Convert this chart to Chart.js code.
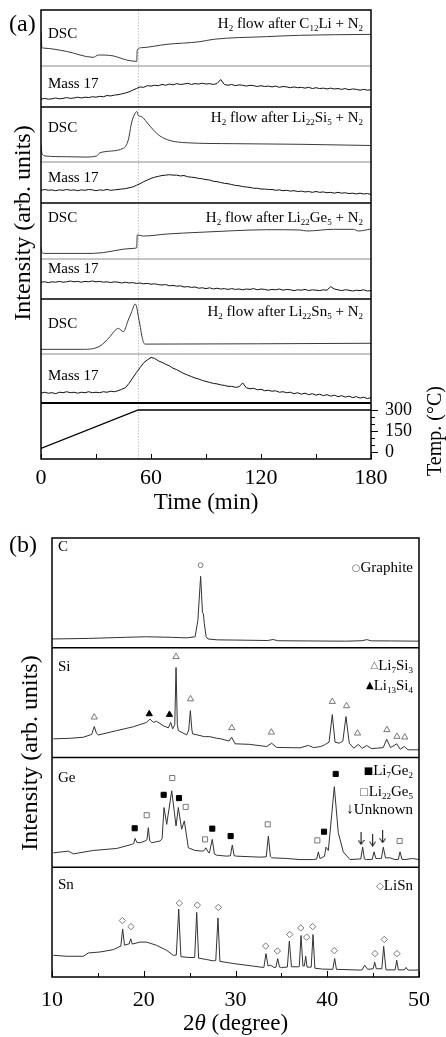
<!DOCTYPE html>
<html>
<head>
<meta charset="utf-8">
<script src="https://cdn.jsdelivr.net/npm/chart.js@4.4.1/dist/chart.umd.min.js"></script>
<style>
  html, body { margin: 0; padding: 0; background: #fff; }
  #wrap { position: relative; width: 446px; height: 1037px; }
  canvas { position: absolute; left: 0; }
</style>
</head>
<body>
<div id="wrap">
  <canvas id="tpd" width="446" height="530" style="top:0"></canvas>
  <canvas id="xrd" width="446" height="507" style="top:530px"></canvas>
</div>
<script>
// ---------- (a) H2 flow: DSC and mass 17 vs time ----------
const massTime = [0,2,4,6,8,10,12,14,16,18,20,22,24,26,28,30,32,34,36,38,40,42,44,46,48,50,52,54,56,58,
  60,62,64,66,68,70,72,74,76,78,80,82,84,86,88,90,92,94,96,98,100,102,104,106,108,110,112,114,116,118,
  120,122,124,126,128,130,132,134,136,138,140,142,144,146,148,150,152,154,156,158,160,162,164,166,168,170,172,174,176,178,180];

const massC = [0.19,0.21,0.19,0.20,0.22,0.20,0.21,0.23,0.21,0.22,
  0.24,0.22,0.24,0.23,0.25,0.24,0.26,0.25,0.28,0.27,
  0.29,0.30,0.32,0.34,0.37,0.41,0.45,0.49,0.48,0.52,
  0.51,0.53,0.52,0.55,0.53,0.56,0.54,0.57,0.55,0.56,
  0.58,0.55,0.57,0.56,0.58,0.56,0.57,0.55,0.57,0.67,
  0.55,0.53,0.55,0.52,0.54,0.53,0.51,0.53,0.52,0.50,
  0.52,0.50,0.51,0.49,0.51,0.48,0.50,0.49,0.47,0.49,
  0.47,0.48,0.46,0.48,0.45,0.47,0.45,0.46,0.44,0.46,
  0.44,0.45,0.43,0.45,0.42,0.44,0.43,0.41,0.43,0.41,0.42];

const massSi = [0.31,0.33,0.31,0.32,0.30,0.32,0.31,0.33,0.31,0.32,
  0.30,0.32,0.31,0.33,0.32,0.30,0.32,0.31,0.33,0.31,
  0.32,0.33,0.34,0.35,0.37,0.39,0.43,0.47,0.52,0.56,
  0.60,0.63,0.65,0.67,0.68,0.69,0.68,0.68,0.66,0.67,
  0.64,0.63,0.62,0.60,0.59,0.57,0.56,0.53,0.52,0.50,
  0.48,0.47,0.45,0.43,0.42,0.40,0.39,0.38,0.36,0.36,
  0.34,0.34,0.33,0.33,0.31,0.32,0.30,0.31,0.29,0.30,
  0.28,0.29,0.27,0.28,0.26,0.28,0.26,0.27,0.25,0.26,
  0.24,0.26,0.24,0.25,0.23,0.24,0.22,0.24,0.22,0.23,0.21];

const massGe = [0.42,0.43,0.41,0.43,0.42,0.44,0.42,0.43,0.45,0.43,
  0.44,0.42,0.44,0.43,0.45,0.43,0.44,0.42,0.43,0.41,
  0.43,0.42,0.40,0.42,0.40,0.41,0.39,0.40,0.38,0.39,
  0.37,0.38,0.36,0.35,0.36,0.33,0.34,0.32,0.33,0.30,
  0.31,0.29,0.30,0.27,0.28,0.26,0.28,0.25,0.27,0.25,
  0.26,0.24,0.26,0.24,0.25,0.23,0.25,0.24,0.26,0.23,
  0.25,0.24,0.22,0.24,0.23,0.25,0.22,0.24,0.23,0.21,
  0.23,0.22,0.24,0.21,0.23,0.22,0.21,0.23,0.22,0.31,
  0.25,0.23,0.21,0.23,0.22,0.20,0.22,0.21,0.23,0.20,0.21];

const massSn = [0.20,0.22,0.20,0.21,0.19,0.22,0.21,0.23,0.21,0.22,
  0.20,0.22,0.21,0.23,0.21,0.22,0.21,0.23,0.22,0.24,
  0.23,0.25,0.28,0.31,0.40,0.51,0.62,0.72,0.82,0.88,
  0.93,0.91,0.86,0.83,0.79,0.76,0.71,0.68,0.64,0.60,
  0.57,0.54,0.51,0.49,0.46,0.44,0.42,0.40,0.39,0.37,
  0.36,0.34,0.34,0.32,0.33,0.41,0.31,0.29,0.30,0.27,
  0.28,0.25,0.26,0.24,0.25,0.22,0.23,0.21,0.22,0.19,
  0.21,0.18,0.20,0.17,0.19,0.16,0.18,0.15,0.17,0.14,
  0.16,0.13,0.15,0.12,0.14,0.11,0.13,0.10,0.12,0.09,0.11];

const dscCTime = [0, 0.5, 1.3, 14, 28.5, 31.3, 39.4, 46.7, 52.2, 52.5, 54.9, 68.6, 86.7, 93.9, 123, 141, 180];
const dscC     = [0.6, 0.33, 0.32, 0.26, 0.155, 0.196, 0.18, 0.107, 0.083, 0.286, 0.327, 0.387, 0.434, 0.476, 0.524, 0.548, 0.565];

const dscSiTime = [0, 0.5, 2.2, 14, 24, 30.4, 32.2, 44.9, 47.6, 49.5, 51.3, 52.2, 53.1, 54.9, 57.6, 61.3, 64.9, 70.4, 79.5, 104.9, 141.3, 180];
const dscSi     = [0.31, 0.158, 0.11, 0.096, 0.09, 0.11, 0.169, 0.249, 0.4, 0.727, 0.885, 0.918, 0.845, 0.824, 0.727, 0.582, 0.473, 0.39, 0.35, 0.333, 0.322, 0.3];

const dscGeTime = [0, 0.5, 2, 28.5, 50.3, 52.2, 52.5, 55.8, 68.6, 86.7, 104.9, 123.1, 141.3, 145, 159.5, 170.4, 173.1, 180];
const dscGe     = [0.22, 0.12, 0.10, 0.10, 0.19, 0.2, 0.43, 0.41, 0.446, 0.477, 0.505, 0.523, 0.518, 0.5, 0.53, 0.53, 0.5, 0.536];

const dscSnTime = [0, 23.1, 32.2, 37.6, 40.4, 42.2, 44.9, 47.6, 49.5, 51.3, 52.2, 53.1, 54, 54.9, 56, 57, 180];
const dscSn     = [0.085, 0.085, 0.145, 0.315, 0.43, 0.467, 0.405, 0.618, 0.77, 0.91, 0.85, 0.68, 0.527, 0.345, 0.205, 0.18, 0.195];

const tempTime = [0, 53, 180];
const tempC    = [25, 300, 300];

const timeLabels = [0, 60, 120, 180];
const tempLabels = [0, 150, 300];

// ---------- (b) XRD patterns ----------
const cTheta = [10, 14, 18, 20.3, 23, 24.7, 25.6, 25.9, 26.2, 26.4, 26.5, 26.6, 26.8, 27.0, 28, 30, 33.5, 34.1, 34.6, 38, 42, 43.8, 44.3, 44.8, 47, 50];
const cInt   = [0.08, 0.085, 0.095, 0.1, 0.095, 0.09, 0.1, 0.25, 0.651, 0.32, 0.309, 0.22, 0.1, 0.08, 0.072, 0.07, 0.066, 0.075, 0.064, 0.062, 0.06, 0.064, 0.074, 0.063, 0.062, 0.06];

const siTheta = [10.14, 12, 13.42, 14.32, 14.61, 14.85, 15.05, 17.05, 18.86, 20.32, 20.68, 21.04, 21.4, 22.13, 22.68, 22.94, 23.15, 23.38, 23.52, 23.66, 23.77, 24.68, 24.9, 25.08, 25.25, 25.33, 26.13, 26.6, 27.2, 27.95, 28.4, 29.3, 29.58, 29.95, 31.5, 33.4, 33.94, 34.49, 37.03, 37.94, 38.5, 39.3, 39.7, 40.2, 40.55, 40.85, 41.3, 41.7, 42.04, 42.4, 42.9, 43.39, 43.8, 44.3, 44.8, 45.5, 46.1, 46.48, 46.9, 47.57, 47.95, 48.4, 48.8, 50];
const siInt   = [0.17, 0.175, 0.185, 0.21, 0.282, 0.22, 0.205, 0.245, 0.28, 0.32, 0.35, 0.32, 0.33, 0.29, 0.27, 0.32, 0.26, 0.3, 0.82, 0.3, 0.245, 0.206, 0.25, 0.427, 0.25, 0.215, 0.2, 0.19, 0.19, 0.175, 0.17, 0.15, 0.185, 0.125, 0.12, 0.1, 0.13, 0.092, 0.088, 0.11, 0.09, 0.1, 0.115, 0.14, 0.39, 0.14, 0.13, 0.15, 0.373, 0.13, 0.085, 0.12, 0.083, 0.11, 0.082, 0.085, 0.09, 0.166, 0.09, 0.125, 0.075, 0.1, 0.07, 0.07];

const geTheta = [10.14, 11.78, 12.33, 14.5, 17.05, 18.69, 18.9, 19.05, 19.25, 19.59, 20.14, 20.35, 20.5, 20.65, 20.87, 21.77, 22.0, 22.21, 22.5, 23.05, 23.52, 23.77, 24.13, 24.42, 24.86, 25.59, 26.31, 26.55, 26.78, 27.0, 27.15, 27.47, 27.7, 27.95, 29.04, 29.45, 29.65, 29.85, 30.13, 32.67, 33.35, 33.58, 33.8, 33.94, 35.58, 37.03, 38.48, 38.85, 39.03, 39.2, 39.39, 39.7, 39.86, 40.12, 40.77, 41.2, 41.75, 42.48, 43.4, 43.65, 43.86, 44.05, 44.3, 44.9, 45.1, 45.3, 45.57, 45.9, 46.11, 46.35, 46.84, 47.38, 47.75, 47.93, 48.15, 48.47, 49.3, 50];
const geInt   = [0.131, 0.147, 0.122, 0.153, 0.171, 0.208, 0.215, 0.263, 0.225, 0.223, 0.239, 0.25, 0.361, 0.24, 0.223, 0.239, 0.26, 0.544, 0.391, 0.697, 0.376, 0.544, 0.346, 0.422, 0.177, 0.153, 0.147, 0.15, 0.177, 0.14, 0.13, 0.254, 0.12, 0.11, 0.101, 0.105, 0.202, 0.105, 0.101, 0.092, 0.095, 0.284, 0.1, 0.086, 0.08, 0.07, 0.07, 0.075, 0.14, 0.08, 0.086, 0.1, 0.183, 0.153, 0.734, 0.315, 0.14, 0.07, 0.075, 0.075, 0.183, 0.075, 0.07, 0.072, 0.14, 0.08, 0.08, 0.08, 0.183, 0.085, 0.086, 0.07, 0.072, 0.14, 0.072, 0.07, 0.08, 0.07];

const snTheta = [10.14, 11.6, 13.42, 13.96, 15.23, 16.68, 17.41, 17.5, 17.7, 17.9, 18.32, 18.4, 18.58, 18.75, 19.59, 20.32, 21.41, 22.5, 23.22, 23.55, 23.81, 24.05, 25.04, 25.55, 25.77, 25.98, 26.86, 27.58, 27.85, 28.09, 28.3, 29.76, 31.94, 33.03, 33.1, 33.32, 33.55, 33.8, 34.2, 34.4, 34.6, 34.8, 35.03, 35.65, 35.87, 36.1, 36.85, 36.95, 37.14, 37.35, 37.5, 37.65, 37.8, 38.25, 38.45, 38.65, 39.5, 40.6, 40.81, 41.0, 43.57, 43.8, 44.08, 44.4, 45.0, 45.17, 45.35, 45.95, 46.15, 46.4, 47.4, 47.57, 47.75, 48.4, 48.58, 48.8, 50];
const snInt   = [0.198, 0.189, 0.189, 0.219, 0.228, 0.249, 0.279, 0.28, 0.438, 0.29, 0.30, 0.30, 0.348, 0.30, 0.318, 0.318, 0.288, 0.243, 0.198, 0.2, 0.619, 0.185, 0.177, 0.178, 0.589, 0.172, 0.159, 0.147, 0.15, 0.538, 0.142, 0.123, 0.099, 0.087, 0.09, 0.213, 0.1, 0.108, 0.087, 0.088, 0.168, 0.09, 0.087, 0.09, 0.327, 0.093, 0.093, 0.095, 0.378, 0.1, 0.1, 0.189, 0.09, 0.09, 0.387, 0.08, 0.072, 0.07, 0.168, 0.07, 0.063, 0.065, 0.108, 0.07, 0.075, 0.135, 0.075, 0.075, 0.279, 0.065, 0.065, 0.153, 0.065, 0.065, 0.087, 0.063, 0.063];

// peak markers (position, height of the symbol)
const graphiteTheta = [26.2];
const graphiteY     = [0.752];
const li7si3Theta = [14.6, 23.52, 25.1, 29.6, 33.9, 40.55, 42.1, 43.3, 46.5, 47.6, 48.45];
const li7si3Y     = [0.367, 0.918, 0.533, 0.27, 0.23, 0.509, 0.47, 0.221, 0.252, 0.191, 0.185];
const li13si4Theta = [20.6, 22.8];
const li13si4Y     = [0.397, 0.391];
const li7ge2Theta = [19.01, 22.17, 23.84, 27.47, 29.47, 39.65, 40.92];
const li7ge2Y     = [0.355, 0.66, 0.63, 0.352, 0.284, 0.324, 0.85];
const li22ge5Theta = [20.32, 23.11, 24.57, 26.68, 33.51, 38.92, 47.89];
const li22ge5Y     = [0.474, 0.813, 0.55, 0.254, 0.391, 0.245, 0.239];
const unknownTheta = [43.68, 44.95, 46.04];
const unknownY     = [0.263, 0.248, 0.278];
const lisnTheta = [17.67, 18.61, 23.88, 25.84, 28.13, 33.29, 34.56, 35.91, 37.11, 37.76, 38.41, 40.77, 45.2, 46.22, 47.6];
const lisnY     = [0.514, 0.459, 0.673, 0.655, 0.634, 0.282, 0.237, 0.387, 0.447, 0.363, 0.459, 0.24, 0.213, 0.342, 0.213];

const thetaLabels = [10, 20, 30, 40, 50];

// ---------- helpers ----------
const serif = '"Liberation Serif", "Times New Roman", Times, serif';
const symFont = '"DejaVu Sans", sans-serif';

function pairs(xs, ys) {
  return xs.map((x, i) => ({ x: x, y: ys[i] }));
}

// text with "_12" style subscripts, y is the visual middle of capitals
function drawRich(ctx, str, x, y, size, align) {
  const parts = str.split(/_(\d+)/);
  const main = size + 'px ' + serif;
  const sub = Math.round(size * 0.62) + 'px ' + serif;
  let w = 0;
  parts.forEach((p, i) => { ctx.font = i % 2 ? sub : main; w += ctx.measureText(p).width; });
  let cx = align === 'right' ? x - w : (align === 'center' ? x - w / 2 : x);
  const base = y + size * 0.33;
  ctx.textAlign = 'left';
  ctx.textBaseline = 'alphabetic';
  parts.forEach((p, i) => {
    ctx.font = i % 2 ? sub : main;
    ctx.fillText(p, cx, i % 2 ? base + size * 0.2 : base);
    cx += ctx.measureText(p).width;
  });
  return cx - w;
}

function hline(ctx, x0, x1, y, color, width) {
  ctx.strokeStyle = color;
  ctx.lineWidth = width;
  ctx.beginPath();
  ctx.moveTo(x0, y);
  ctx.lineTo(x1, y);
  ctx.stroke();
}

function rotatedText(ctx, text, x, y, size) {
  ctx.save();
  ctx.translate(x, y);
  ctx.rotate(-Math.PI / 2);
  ctx.font = size + 'px ' + serif;
  ctx.textAlign = 'center';
  ctx.textBaseline = 'middle';
  ctx.fillText(text, 0, 0);
  ctx.restore();
}

Chart.defaults.animation = false;
Chart.defaults.font.family = serif;

// ---------- chart (a) ----------
const tpdPanels = [
  { id: 'yC1',  h: 56, sep: null,   label: 'DSC',     ly: 23, title: 'H_2 flow after C_12Li + N_2',  ty: 13 },
  { id: 'yC2',  h: 41, sep: '#8a8a8a', label: 'Mass 17', ly: 17 },
  { id: 'ySi1', h: 55, sep: '#000', label: 'DSC',     ly: 20, title: 'H_2 flow after Li_22Si_5 + N_2', ty: 10 },
  { id: 'ySi2', h: 41, sep: '#8a8a8a', label: 'Mass 17', ly: 15 },
  { id: 'yGe1', h: 56, sep: '#000', label: 'DSC',     ly: 14, title: 'H_2 flow after Li_22Ge_5 + N_2', ty: 14 },
  { id: 'yGe2', h: 40, sep: '#8a8a8a', label: 'Mass 17', ly: 9 },
  { id: 'ySn1', h: 55, sep: '#000', label: 'DSC',     ly: 24, title: 'H_2 flow after Li_22Sn_5 + N_2', ty: 12 },
  { id: 'ySn2', h: 49, sep: '#8a8a8a', label: 'Mass 17', ly: 21 },
  { id: 'yT',   h: 56, sep: '#000' }
];

const tpdScales = { x: { type: 'linear', min: 0, max: 180, display: false } };
tpdPanels.forEach((p, i) => {
  tpdScales[p.id] = {
    type: 'linear', position: 'left', stack: 'tpd', stackWeight: p.h,
    weight: tpdPanels.length - i, display: false,
    min: p.id === 'yT' ? -50 : 0, max: p.id === 'yT' ? 350 : 1
  };
});

function dscSet(axis, xs, ys) {
  return { yAxisID: axis, data: pairs(xs, ys), borderColor: '#3a3a3a', borderWidth: 1,
    pointRadius: 0, cubicInterpolationMode: 'monotone' };
}
function massSet(axis, ys) {
  return { yAxisID: axis, data: pairs(massTime, ys), borderColor: '#111', borderWidth: 1,
    pointRadius: 0, tension: 0 };
}

const tpdDecor = {
  id: 'tpdDecor',
  beforeDatasetsDraw(chart) {
    const { ctx, chartArea: a, scales } = chart;
    ctx.save();
    const xr = Math.round(scales.x.getPixelForValue(tempTime[1])) + 0.5;
    ctx.strokeStyle = '#c4c4c4';
    ctx.lineWidth = 1;
    ctx.setLineDash([1.5, 1.5]);
    ctx.beginPath();
    ctx.moveTo(xr, a.top);
    ctx.lineTo(xr, a.bottom);
    ctx.stroke();
    ctx.setLineDash([]);
    tpdPanels.forEach((p) => {
      if (!p.sep) return;
      const y = scales[p.id].top;
      const w = p.sep === '#000' ? (p.id === 'yT' ? 2 : 1.5) : 1;
      hline(ctx, a.left, a.right, y, p.sep, w);
    });
    ctx.restore();
  },
  afterDraw(chart) {
    const { ctx, chartArea: a, scales } = chart;
    ctx.save();
    ctx.strokeStyle = '#000';
    ctx.lineWidth = 1.5;
    ctx.strokeRect(a.left, a.top, a.width, a.height);

    // time axis, ticks pointing inward
    ctx.lineWidth = 1;
    for (let t = 0; t <= 180; t += 30) {
      const x = Math.round(scales.x.getPixelForValue(t)) + 0.5;
      ctx.beginPath(); ctx.moveTo(x, a.bottom); ctx.lineTo(x, a.bottom - 5); ctx.stroke();
    }
    ctx.fillStyle = '#000';
    ctx.font = '22px ' + serif;
    ctx.textAlign = 'center';
    ctx.textBaseline = 'middle';
    timeLabels.forEach(t => ctx.fillText(String(t), scales.x.getPixelForValue(t), a.bottom + 19));
    ctx.font = '23px ' + serif;
    ctx.fillText('Time (min)', (a.left + a.right) / 2, a.bottom + 44);

    // temperature axis on the right
    const yT = scales.yT;
    for (let v = 0; v <= 300; v += 50) {
      const y = Math.round(yT.getPixelForValue(v)) + 0.5;
      const len = v % 150 === 0 ? 7 : 4;
      ctx.beginPath(); ctx.moveTo(a.right, y); ctx.lineTo(a.right + len, y); ctx.stroke();
    }
    ctx.font = '18px ' + serif;
    ctx.textAlign = 'left';
    tempLabels.forEach(v => ctx.fillText(String(v), a.right + 14, yT.getPixelForValue(v)));
    rotatedText(ctx, 'Temp. (\u00B0C)', a.right + 65, (yT.top + yT.bottom) / 2, 20);

    // panel captions
    tpdPanels.forEach((p) => {
      const s = scales[p.id];
      ctx.fillStyle = '#000';
      if (p.label) drawRich(ctx, p.label, a.left + 7, s.top + p.ly, 15, 'left');
      if (p.title) drawRich(ctx, p.title, a.right - 8, s.top + p.ty, 15, 'right');
    });

    rotatedText(ctx, 'Intensity (arb. units)', 24, 223, 24);
    ctx.font = '24px ' + serif;
    ctx.textAlign = 'left';
    ctx.textBaseline = 'middle';
    ctx.fillText('(a)', 9, 25);
    ctx.restore();
  }
};

new Chart(document.getElementById('tpd').getContext('2d'), {
  type: 'line',
  data: {
    datasets: [
      dscSet('yC1', dscCTime, dscC),
      massSet('yC2', massC),
      dscSet('ySi1', dscSiTime, dscSi),
      massSet('ySi2', massSi),
      dscSet('yGe1', dscGeTime, dscGe),
      massSet('yGe2', massGe),
      dscSet('ySn1', dscSnTime, dscSn),
      massSet('ySn2', massSn),
      { yAxisID: 'yT', data: pairs(tempTime, tempC), borderColor: '#000', borderWidth: 1.3, pointRadius: 0 }
    ]
  },
  options: {
    responsive: false,
    devicePixelRatio: 1,
    events: [],
    layout: { padding: { left: 41, top: 10, right: 75, bottom: 71 } },
    scales: tpdScales,
    plugins: { legend: { display: false }, tooltip: { enabled: false } }
  },
  plugins: [tpdDecor]
});

// ---------- chart (b) ----------
const xrdPanels = [
  { id: 'yC',  label: 'C',  ly: 8,  legend: [{ sym: '\u25CB', text: 'Graphite', dy: 29, color: '#666' }] },
  { id: 'ySi', label: 'Si', ly: 18, legend: [{ sym: '\u25B3', text: 'Li_7Si_3', dy: 17, color: '#666' },
                                             { sym: '\u25B2', text: 'Li_13Si_4', dy: 37, color: '#000' }] },
  { id: 'yGe', label: 'Ge', ly: 20, legend: [{ sym: '\u25A0', text: 'Li_7Ge_2', dy: 13, color: '#000' },
                                             { sym: '\u25A1', text: 'Li_22Ge_5', dy: 34, color: '#666' },
                                             { sym: '\u2193', text: 'Unknown', dy: 52, color: '#000', serif: true }] },
  { id: 'ySn', label: 'Sn', ly: 17, legend: [{ sym: '\u25C7', text: 'LiSn', dy: 18, color: '#666' }] }
];

const xrdScales = { x: { type: 'linear', min: 10, max: 50, display: false } };
xrdPanels.forEach((p, i) => {
  xrdScales[p.id] = { type: 'linear', position: 'left', stack: 'xrd', stackWeight: 1,
    weight: xrdPanels.length - i, display: false, min: 0, max: 1 };
});

function arrowGlyph() {
  const c = document.createElement('canvas');
  c.width = 7; c.height = 13;
  const g = c.getContext('2d');
  g.strokeStyle = '#000';
  g.lineWidth = 1;
  g.beginPath(); g.moveTo(3.5, 0); g.lineTo(3.5, 12); g.stroke();
  g.beginPath(); g.moveTo(0.5, 8); g.lineTo(3.5, 12.5); g.lineTo(6.5, 8); g.stroke();
  return c;
}

function xrdSet(axis, xs, ys) {
  return { yAxisID: axis, data: pairs(xs, ys), borderColor: '#333', borderWidth: 1,
    pointRadius: 0, tension: 0 };
}
function markSet(axis, xs, ys, style, fill, stroke, r) {
  return { yAxisID: axis, data: pairs(xs, ys), showLine: false, pointStyle: style,
    pointRadius: r, pointBackgroundColor: fill, pointBorderColor: stroke, pointBorderWidth: 1 };
}

const xrdDecor = {
  id: 'xrdDecor',
  beforeDatasetsDraw(chart) {
    const { ctx, chartArea: a, scales } = chart;
    ctx.save();
    xrdPanels.forEach((p, i) => {
      if (i === 0) return;
      hline(ctx, a.left, a.right, scales[p.id].top, '#000', 1.5);
    });
    ctx.restore();
  },
  afterDraw(chart) {
    const { ctx, chartArea: a, scales } = chart;
    ctx.save();
    ctx.strokeStyle = '#000';
    ctx.lineWidth = 1.5;
    ctx.strokeRect(a.left, a.top, a.width, a.height);
    ctx.lineWidth = 1;
    for (let t = 10; t <= 50; t += 5) {
      const x = Math.round(scales.x.getPixelForValue(t)) + 0.5;
      const len = t % 10 === 0 ? 6 : 4;
      ctx.beginPath(); ctx.moveTo(x, a.bottom); ctx.lineTo(x, a.bottom - len); ctx.stroke();
    }
    ctx.fillStyle = '#000';
    ctx.font = '22px ' + serif;
    ctx.textAlign = 'center';
    ctx.textBaseline = 'middle';
    thetaLabels.forEach(t => ctx.fillText(String(t), scales.x.getPixelForValue(t), a.bottom + 23));

    // "2θ (degree)" with italic theta
    const cx = (a.left + a.right) / 2, cy = a.bottom + 47;
    const f1 = '23px ' + serif, f2 = 'italic 23px ' + serif;
    ctx.font = f1; const w1 = ctx.measureText('2').width, w3 = ctx.measureText(' (degree)').width;
    ctx.font = f2; const w2 = ctx.measureText('\u03B8').width;
    let x0 = cx - (w1 + w2 + w3) / 2;
    ctx.textAlign = 'left';
    ctx.font = f1; ctx.fillText('2', x0, cy);
    ctx.font = f2; ctx.fillText('\u03B8', x0 + w1, cy);
    ctx.font = f1; ctx.fillText(' (degree)', x0 + w1 + w2, cy);

    xrdPanels.forEach((p) => {
      const s = scales[p.id];
      ctx.fillStyle = '#000';
      drawRich(ctx, p.label, a.left + 6, s.top + p.ly, 15, 'left');
      p.legend.forEach((e) => {
        const y = s.top + e.dy;
        ctx.fillStyle = '#000';
        const left = drawRich(ctx, e.text, a.right - 6, y, 15, 'right');
        ctx.fillStyle = e.color;
        ctx.font = e.serif ? '15px ' + serif : '10px ' + symFont;
        ctx.textAlign = 'right';
        ctx.textBaseline = 'middle';
        ctx.fillText(e.sym, left, y + (e.serif ? 0 : 1));
      });
    });
    ctx.fillStyle = '#000';
    rotatedText(ctx, 'Intensity (arb. units)', 31, 223, 24);
    ctx.font = '24px ' + serif;
    ctx.textAlign = 'left';
    ctx.textBaseline = 'middle';
    ctx.fillText('(b)', 9, 16);
    ctx.restore();
  }
};

const grey = '#777';
const clear = 'rgba(0,0,0,0)';

new Chart(document.getElementById('xrd').getContext('2d'), {
  type: 'line',
  data: {
    datasets: [
      xrdSet('yC', cTheta, cInt),
      xrdSet('ySi', siTheta, siInt),
      xrdSet('yGe', geTheta, geInt),
      xrdSet('ySn', snTheta, snInt),
      markSet('yC', graphiteTheta, graphiteY, 'circle', clear, grey, 2.4),
      markSet('ySi', li7si3Theta, li7si3Y, 'triangle', clear, grey, 3.6),
      markSet('ySi', li13si4Theta, li13si4Y, 'triangle', '#000', '#000', 3.6),
      markSet('yGe', li7ge2Theta, li7ge2Y, 'rect', '#000', '#000', 3.6),
      markSet('yGe', li22ge5Theta, li22ge5Y, 'rect', clear, grey, 3.6),
      markSet('yGe', unknownTheta, unknownY, arrowGlyph(), '#000', '#000', 4),
      markSet('ySn', lisnTheta, lisnY, 'rectRot', clear, grey, 3.2)
    ]
  },
  options: {
    responsive: false,
    devicePixelRatio: 1,
    events: [],
    layout: { padding: { left: 52, top: 8, right: 27, bottom: 60 } },
    scales: xrdScales,
    plugins: { legend: { display: false }, tooltip: { enabled: false } }
  },
  plugins: [xrdDecor]
});
</script>
</body>
</html>
